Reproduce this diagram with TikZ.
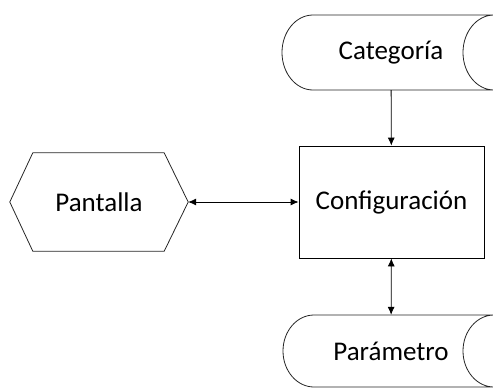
\documentclass[tikz,border=0pt]{standalone}
\usepackage{fontspec}
\setmainfont{Carlito}
\usetikzlibrary{calc,arrows.meta}
\tikzset{
  outline/.style={draw=black!85, line width=0.8pt},
  caption/.style={font=\fontsize{27}{32}\selectfont, inner sep=0pt},
  link/.style={draw=black, line width=0.8pt},
  head/.tip={Latex[length=8pt,width=7pt]},
}
% stored-data symbol: rounded left end, concave right end
\newcommand{\storedoutline}[3]{% left x, top y, bottom y
  \draw[outline] ({#1+31},#2) -- (494,#2)
    arc[start angle=270, end angle=90, x radius=31, y radius={(#3-#2)/2}]
    -- ({#1+31},#3)
    arc[start angle=90, end angle=270, x radius=31, y radius={(#3-#2)/2}]
    -- cycle;}
\begin{document}
\begin{tikzpicture}[x=1pt,y=-1pt]
\useasboundingbox (0,0) rectangle (493,389);
\clip (0,0) rectangle (493,389);

% Categoría
\storedoutline{282}{15}{90}
\node[caption, minimum width=212, minimum height=75] (cat) at (391,52.5) {Categoría};

% Configuración
\node[caption, outline, draw=black, minimum width=185, minimum height=112] (conf) at (391.5,202) {Configuración};

% Parámetro
\storedoutline{283}{315}{387}
\node[caption, minimum width=211, minimum height=72] (par) at (391,351) {Parámetro};

% Pantalla (display symbol)
\node[caption, minimum width=178, minimum height=98] (pan) at (99,202) {Pantalla};
\draw[outline] (pan.west) -- ($(pan.north west)+(23,0)$) -- ($(pan.north east)+(-24,0)$)
  -- (pan.east) -- ($(pan.south east)+(-24,0)$) -- ($(pan.south west)+(23,0)$) -- cycle;

% connectors
\draw[link, -head] (cat) -- (conf);
\draw[link, head-head] (pan) -- (conf);
\draw[link, head-head] (conf) -- (par);
\end{tikzpicture}
\end{document}
